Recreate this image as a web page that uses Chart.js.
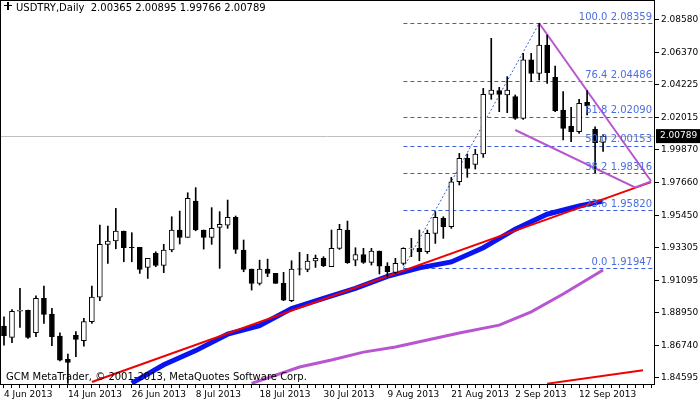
<!DOCTYPE html>
<html><head><meta charset="utf-8">
<script src="https://cdn.jsdelivr.net/npm/chart.js@4"></script>
<style>html,body{margin:0;padding:0;background:#fff}#w{width:700px;height:402px}</style>
</head><body><div id="w"><canvas id="c"></canvas></div>
<script>
// trading-day categories (4 Jun 2013 ... plus empty space on the right)
const months=['Jan','Feb','Mar','Apr','May','Jun','Jul','Aug','Sep','Oct','Nov','Dec'];
const categories=[];
(function(){let d=new Date(Date.UTC(2013,5,4));while(categories.length<82){const w=d.getUTCDay();if(w!==0&&w!==6)categories.push(d.getUTCDate()+' '+months[d.getUTCMonth()]+' 2013');d=new Date(d.getTime()+86400000);}})();

const opens=[1.8805,1.8729,1.8905,1.8910,1.8760,1.8990,1.8885,1.8738,1.8581,1.8742,1.8706,1.8834,1.8999,1.9353,1.9375,1.9442,1.9333,1.9332,1.9198,1.9292,1.9212,1.9315,1.9449,1.9400,1.9643,1.9449,1.9400,1.9467,1.9482,1.9534,1.9315,1.9187,1.9091,1.9187,1.9158,1.9091,1.8975,1.9188,1.9185,1.9241,1.9259,1.9203,1.9326,1.9449,1.9247,1.9285,1.9232,1.9308,1.9207,1.9165,1.9225,1.9325,1.9326,1.9303,1.9426,1.9527,1.9471,1.9773,1.9930,1.9889,1.9959,2.0359,2.0384,2.0355,2.0344,2.0198,2.0590,2.0500,2.0690,2.0473,2.0254,2.0147,2.0109,2.0306,2.0124,2.00365];
const highs=[1.8867,1.8916,1.9057,1.8912,1.9008,1.9073,1.8923,1.8760,1.8617,1.8767,1.8856,1.9073,1.9482,1.9476,1.9594,1.9442,1.9431,1.9332,1.9259,1.9303,1.9353,1.9538,1.9576,1.9699,1.9733,1.9449,1.9599,1.9572,1.9650,1.9543,1.9382,1.9187,1.9247,1.9254,1.9158,1.9165,1.9243,1.9299,1.9286,1.9281,1.9270,1.9449,1.9487,1.9509,1.9330,1.9326,1.9326,1.9308,1.9230,1.9259,1.9330,1.9393,1.9449,1.9449,1.9572,1.9538,1.9802,1.9963,1.9959,1.9990,2.0399,2.0735,2.0406,2.0478,2.0355,2.0634,2.0634,2.08359,2.0757,2.0549,2.0377,2.0272,2.0326,2.0384,2.0142,2.00895];
const lows=[1.8677,1.8693,1.8796,1.8722,1.8733,1.8822,1.8673,1.8570,1.8420,1.8599,1.8670,1.8822,1.8975,1.9225,1.9323,1.9236,1.9236,1.9158,1.9124,1.9203,1.9163,1.9303,1.9355,1.9400,1.9444,1.9321,1.9353,1.9192,1.9460,1.9292,1.9169,1.9046,1.9080,1.9136,1.9091,1.8975,1.8968,1.9147,1.9169,1.9198,1.9203,1.9203,1.9319,1.9225,1.9209,1.9225,1.9214,1.9154,1.9136,1.9158,1.9214,1.9270,1.9243,1.9292,1.9359,1.9393,1.9460,1.9751,1.9802,1.9858,1.9936,2.0326,2.0243,2.0236,2.0191,2.0191,2.0444,2.0455,2.0433,2.0243,2.0053,2.0042,2.0097,2.0221,1.9832,1.99766];
const closes=[1.8740,1.8903,1.8910,1.8729,1.8990,1.8883,1.8733,1.8576,1.8561,1.8715,1.8834,1.8999,1.9353,1.9375,1.9442,1.9330,1.9331,1.9185,1.9259,1.9212,1.9315,1.9449,1.9400,1.9661,1.9449,1.9400,1.9460,1.9487,1.9534,1.9319,1.9185,1.9091,1.9187,1.9158,1.9091,1.8979,1.9187,1.9186,1.9241,1.9259,1.9209,1.9326,1.9453,1.9230,1.9285,1.9232,1.9308,1.9207,1.9169,1.9225,1.9326,1.9327,1.9303,1.9426,1.9534,1.9471,1.9773,1.9930,1.9863,1.9959,2.0359,2.0388,2.0359,2.0388,2.0198,2.0590,2.0500,2.0690,2.0505,2.0250,2.0131,2.0109,2.0299,2.0281,2.0035,2.00789];

const maBlueIdx=[16,20,24,28,32,36,40,44,48,52,56,60,64,68,72,75];
const maBlueVal=[1.8422,1.8545,1.8640,1.8750,1.8808,1.8922,1.8990,1.9058,1.9138,1.9195,1.9235,1.9330,1.9455,1.9555,1.9610,1.9643];
const maPurpleIdx=[31,37,41,45,49,53,57,62,66,70,75];
const maPurpleVal=[1.8420,1.8530,1.8577,1.8630,1.8664,1.8711,1.8758,1.8811,1.8900,1.9020,1.9181];
const trendRedIdx=[11,81]; const trendRedVal=[1.8429,1.9770];
const trendRed2Idx=[68,80]; const trendRed2Val=[1.8418,1.8508];
const patUpperIdx=[67,81]; const patUpperVal=[2.0836,1.9778];
const patLowerIdx=[64,79,81]; const patLowerVal=[2.0120,1.9735,1.9775];
const fibLineIdx=[50,67]; const fibLineVal=[1.91947,2.08359];
const fibLevels=['100.0','76.4','61.8','50.0','38.2','23.6','0.0'];
const fibValues=[2.08359,2.04486,2.02090,2.00153,1.98316,1.95820,1.91947];
const yTicks=[2.08580,2.06370,2.04225,2.02015,1.99870,1.97660,1.95450,1.93305,1.91095,1.88950,1.86740,1.84595];
const lastPrice=2.00789;

const pts=(idx,val)=>idx.map((k,j)=>({x:categories[k],y:val[j]}));
const bull=opens.map((o,i)=>closes[i]>=o);
const FONT='"DejaVu Sans", sans-serif';

const overlay={id:'overlay',
 beforeDatasetsDraw(ch){const {ctx,chartArea:a,scales:{x,y}}=ch;ctx.save();
  const py=y.getPixelForValue(lastPrice);ctx.strokeStyle='#c0c0c0';ctx.lineWidth=1;ctx.beginPath();ctx.moveTo(a.left,Math.round(py)+0.5);ctx.lineTo(a.right,Math.round(py)+0.5);ctx.stroke();
  const x0=x.getPixelForValue(50);ctx.strokeStyle='#3a5fd8';ctx.setLineDash([4,3]);
  fibValues.forEach(v=>{const yy=Math.round(y.getPixelForValue(v))+0.5;ctx.beginPath();ctx.moveTo(x0,yy);ctx.lineTo(a.right,yy);ctx.stroke();});
  ctx.setLineDash([]);ctx.restore();},
 afterDatasetsDraw(ch){const {ctx,chartArea:a,scales:{x,y}}=ch;ctx.save();
  ctx.font='10px '+FONT;ctx.fillStyle='#4a6fe0';ctx.textAlign='right';ctx.textBaseline='bottom';
  fibValues.forEach((v,i)=>{ctx.fillText(fibLevels[i]+' '+v.toFixed(5),a.right-3,y.getPixelForValue(v)-1);});
  ctx.fillStyle='#000';ctx.textAlign='left';ctx.textBaseline='top';
  ctx.fillText('USDTRY,Daily  2.00365 2.00895 1.99766 2.00789',16,3);
  ctx.fillStyle='#000';ctx.fillRect(4,5,8,1);ctx.fillRect(7,2,2,8);
  ctx.textBaseline='bottom';ctx.fillText('GCM MetaTrader, \u00a9 2001-2013, MetaQuotes Software Corp.',6,a.bottom-2);
  ctx.strokeStyle='#000';ctx.lineWidth=1;ctx.strokeRect(a.left+0.5,a.top+0.5,a.right-a.left-1,a.bottom-a.top);
  const py=y.getPixelForValue(lastPrice);ctx.fillStyle='#000';ctx.fillRect(a.right+1,py-7,44,14);
  ctx.font='9px '+FONT;ctx.fillStyle='#fff';ctx.textAlign='left';ctx.textBaseline='middle';ctx.fillText(lastPrice.toFixed(5),a.right+5,py);
  ctx.restore();}};

const lineDs=(data,color,w,extra)=>Object.assign({type:'line',data:pts(...data),borderColor:color,borderWidth:w,pointRadius:0,fill:false,tension:0,order:5},extra||{});

new Chart(document.getElementById('c'),{
 type:'bar',
 data:{labels:categories,datasets:[
  lineDs([fibLineIdx,fibLineVal],'#3a5fd8',1,{borderDash:[2,2],order:6}),
  lineDs([maPurpleIdx,maPurpleVal],'#b855d0',3,{order:5}),
  lineDs([maBlueIdx,maBlueVal],'#0a14f0',5,{order:4}),
  lineDs([trendRedIdx,trendRedVal],'#f00000',2,{order:3}),
  lineDs([trendRed2Idx,trendRed2Val],'#f00000',2,{order:3}),
  lineDs([patUpperIdx,patUpperVal],'#b855d0',2,{order:2}),
  lineDs([patLowerIdx,patLowerVal],'#b855d0',2,{order:2}),
  {label:'wick',data:lows.map((l,i)=>[l,highs[i]]),backgroundColor:'#000',borderWidth:0,barThickness:1,grouped:false,order:1},
  {label:'body',data:opens.map((o,i)=>[o,closes[i]]),backgroundColor:bull.map(b=>b?'#fff':'#000'),borderColor:'#000',borderWidth:1,borderSkipped:false,barThickness:5,grouped:false,order:0}
 ]},
 options:{animation:false,responsive:true,maintainAspectRatio:false,devicePixelRatio:1,
  layout:{padding:0},
  plugins:{legend:{display:false},tooltip:{enabled:false}},
  scales:{
   x:{offset:true,grid:{display:true,drawOnChartArea:false,color:'#000',tickLength:4,offset:false},border:{display:false},
      afterFit(s){s.height=18;s.paddingLeft=0;s.paddingRight=0;},
      ticks:{autoSkip:false,maxRotation:0,align:'start',padding:1,color:'#000',font:{family:FONT,size:9},
        callback(v,i){return i%8===0&&i<=72?categories[i]:'';}}},
   y:{position:'right',min:1.8416,max:2.0992,grid:{drawOnChartArea:false,color:'#000',tickLength:4},border:{display:false},
      afterFit(s){s.width=45;s.paddingTop=0;s.paddingBottom=0;},
      afterBuildTicks(s){s.ticks=yTicks.map(v=>({value:v}));},
      ticks:{padding:2,color:'#000',font:{family:FONT,size:9},callback:v=>v.toFixed(5)}}
  }},
 plugins:[overlay]});
</script></body></html>
